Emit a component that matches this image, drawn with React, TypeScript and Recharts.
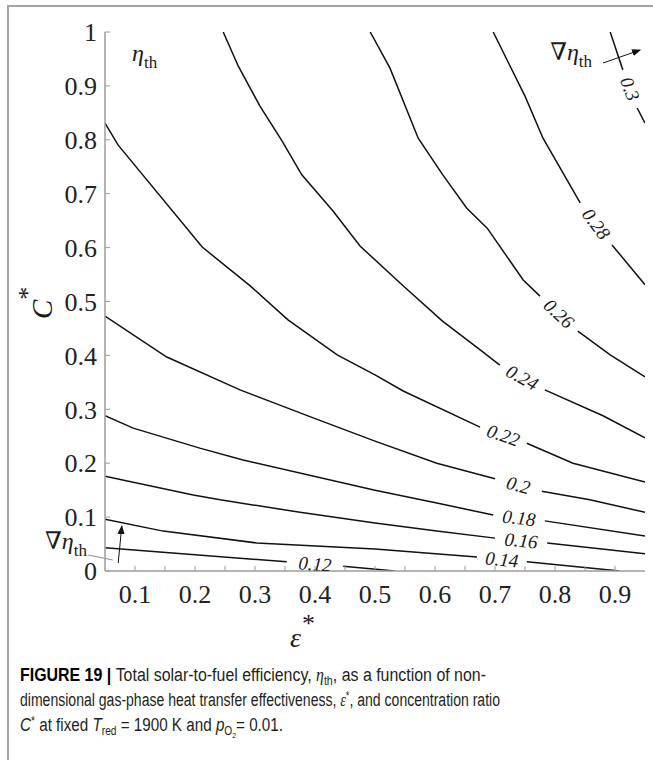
import React from "react";
import {
  ComposedChart,
  Line,
  Scatter,
  XAxis,
  YAxis,
  Customized,
} from "recharts";

type Pt = [number, number] | null;

// eta_th contours as [eps*, C*] vertices; null marks the break left for the inline label
const eta012: Pt[] = [[0.05, 0.043], [0.353, 0.017], null, [0.447, 0.009], [0.533, 0.0]];
const eta014: Pt[] = [
  [0.05, 0.096], [0.147, 0.074], [0.303, 0.052], [0.5, 0.041], [0.67, 0.026],
  null, [0.753, 0.017], [0.908, 0.0],
];
const eta016: Pt[] = [
  [0.05, 0.176], [0.197, 0.141], [0.242, 0.132], [0.375, 0.109], [0.5, 0.089],
  [0.603, 0.074], [0.7, 0.061], null, [0.787, 0.052], [0.95, 0.032],
];
const eta018: Pt[] = [
  [0.05, 0.288], [0.097, 0.265], [0.208, 0.228], [0.28, 0.206], [0.5, 0.15],
  [0.603, 0.126], [0.697, 0.104], null, [0.783, 0.093], [0.95, 0.065],
];
const eta020: Pt[] = [
  [0.05, 0.473], [0.153, 0.397], [0.275, 0.336], [0.397, 0.284], [0.5, 0.241],
  [0.603, 0.2], [0.7, 0.171], null, [0.778, 0.148], [0.858, 0.132], [0.95, 0.109],
];
const eta022: Pt[] = [
  [0.05, 0.831], [0.072, 0.79], [0.212, 0.601], [0.292, 0.529], [0.355, 0.466],
  [0.437, 0.401], [0.5, 0.364], [0.547, 0.334], [0.675, 0.267],
  null, [0.753, 0.237], [0.83, 0.2], [0.95, 0.165],
];
const eta024: Pt[] = [
  [0.247, 1.0], [0.272, 0.937], [0.308, 0.863], [0.345, 0.798], [0.378, 0.735],
  [0.43, 0.668], [0.475, 0.603], [0.545, 0.531], [0.612, 0.464], [0.678, 0.408],
  [0.708, 0.382], null, [0.783, 0.336], [0.88, 0.288], [0.95, 0.247],
];
const eta026: Pt[] = [
  [0.492, 1.0], [0.525, 0.933], [0.572, 0.803], [0.613, 0.735], [0.653, 0.673],
  [0.687, 0.636], [0.747, 0.54], [0.775, 0.51], null, [0.838, 0.445],
  [0.892, 0.401], [0.95, 0.36],
];
const eta028: Pt[] = [
  [0.697, 1.0], [0.75, 0.881], [0.78, 0.803], [0.842, 0.683], null,
  [0.895, 0.605], [0.95, 0.531],
];
const eta030: Pt[] = [[0.892, 1.0], [0.913, 0.93], null, [0.937, 0.859], [0.95, 0.831]];

const levelNames = ["0.12", "0.14", "0.16", "0.18", "0.2", "0.22", "0.24", "0.26", "0.28", "0.3"];
const contours = [eta012, eta014, eta016, eta018, eta020, eta022, eta024, eta026, eta028, eta030];

const xTicks = [0.1, 0.15, 0.2, 0.25, 0.3, 0.35, 0.4, 0.45, 0.5, 0.55, 0.6, 0.65, 0.7, 0.75, 0.8, 0.85, 0.9];
const yTicks = [0, 0.1, 0.2, 0.3, 0.4, 0.5, 0.6, 0.7, 0.8, 0.9, 1];

const SERIF = "'Liberation Serif', 'DejaVu Serif', serif";
const SANS = "'Liberation Sans', Arial, sans-serif";
const AXIS_GREY = "#9c9c9c";

const W = 653;
const H = 660;
const X_AXIS_H = 40;
const PLOT = { left: 105, top: 32, right: 645, bottom: 571 };
const X_DOMAIN: [number, number] = [0.05, 0.95];
const Y_DOMAIN: [number, number] = [0, 1];

// pixels per data unit, used for label angles and annotations
const SX = (PLOT.right - PLOT.left) / (X_DOMAIN[1] - X_DOMAIN[0]);
const SY = (PLOT.bottom - PLOT.top) / (Y_DOMAIN[1] - Y_DOMAIN[0]);
const px = (e: number) => PLOT.left + (e - X_DOMAIN[0]) * SX;
const py = (c: number) => PLOT.bottom - (c - Y_DOMAIN[0]) * SY;

const toSeries = (pts: Pt[]) =>
  pts.map((p, i) =>
    p ? { x: p[0], y: p[1] } : { x: (pts[i - 1]![0] + pts[i + 1]![0]) / 2, y: null }
  );

// inline labels sit in the middle of each gap, turned to follow the line
const labelData = contours.map((pts, k) => {
  const i = pts.indexOf(null);
  const a = pts[i - 1]!;
  const b = pts[i + 1]!;
  return {
    x: (a[0] + b[0]) / 2,
    y: (a[1] + b[1]) / 2,
    text: levelNames[k],
    angle: (Math.atan2((a[1] - b[1]) * SY, (b[0] - a[0]) * SX) * 180) / Math.PI,
  };
});

const fmtX = (v: number) =>
  Math.abs(v * 10 - Math.round(v * 10)) < 1e-6 ? String(Math.round(v * 10) / 10) : "";

const ContourLabel = (props: any) => {
  const { cx, cy, payload } = props;
  return (
    <text
      x={cx}
      y={cy}
      transform={`rotate(${payload.angle} ${cx} ${cy})`}
      textAnchor="middle"
      dominantBaseline="central"
      fontFamily={SERIF}
      fontStyle="italic"
      fontSize={19}
      fill="#1a1a1a"
    >
      {payload.text}
    </text>
  );
};

// gradient markers, eta_th tag and axis titles
const Annotations = () => (
  <g fontFamily={SERIF} fill="#1a1a1a">
    <defs>
      <marker
        id="arrowHead"
        viewBox="0 0 10 10"
        refX="9"
        refY="5"
        markerWidth="9"
        markerHeight="9"
        markerUnits="userSpaceOnUse"
        orient="auto"
      >
        <path d="M0,1 L10,5 L0,9 z" fill="#111" />
      </marker>
    </defs>

    <text x={px(0.095)} y={py(0.946)} fontSize={24}>
      <tspan fontStyle="italic">η</tspan>
      <tspan fontSize={17} dy={7}>th</tspan>
    </text>

    <text x={px(0.792)} y={py(0.948)} fontSize={24}>
      ∇<tspan fontStyle="italic">η</tspan>
      <tspan fontSize={17} dy={7}>th</tspan>
    </text>
    <line
      x1={px(0.88)}
      y1={py(0.9425)}
      x2={px(0.942)}
      y2={py(0.9666)}
      stroke="#111"
      strokeWidth={1}
      markerEnd="url(#arrowHead)"
    />

    <text x={px(-0.05)} y={py(0.041)} fontSize={24}>
      ∇<tspan fontStyle="italic">η</tspan>
      <tspan fontSize={17} dy={7}>th</tspan>
    </text>
    <line x1={px(0.022)} y1={py(0.0297)} x2={px(0.063)} y2={py(0.0204)} stroke="#888" strokeWidth={1} />
    <line
      x1={px(0.072)}
      y1={py(0.0148)}
      x2={px(0.078)}
      y2={py(0.0835)}
      stroke="#111"
      strokeWidth={1}
      markerEnd="url(#arrowHead)"
    />

    <text x={PLOT.left + 185} y={PLOT.bottom + 76} fontSize={28} fontStyle="italic">
      ε
    </text>
    <text x={PLOT.left + 197} y={PLOT.bottom + 61} fontSize={26}>
      *
    </text>

    <text x={52} y={319} transform="rotate(-90 52 319)" fontSize={29}>
      <tspan fontStyle="italic">C</tspan>
      <tspan fontSize={26} dy={-16}>*</tspan>
    </text>
  </g>
);

export default function App() {
  return (
    <div
      style={{
        position: "absolute",
        left: 0,
        top: 0,
        width: 653,
        height: 760,
        background: "#fff",
        overflow: "hidden",
      }}
    >
      <div
        style={{
          position: "absolute",
          left: 7,
          top: 5,
          width: 700,
          height: 800,
          borderTop: "2px solid #a3a3a3",
          borderLeft: "2px solid #a3a3a3",
        }}
      />
      <div style={{ position: "absolute", left: 0, top: 0 }}>
        <ComposedChart
          width={W}
          height={H}
          margin={{
            top: PLOT.top,
            right: W - PLOT.right,
            bottom: H - PLOT.bottom - X_AXIS_H,
            left: 15,
          }}
        >
          <XAxis
            type="number"
            dataKey="x"
            domain={X_DOMAIN}
            ticks={xTicks}
            interval={0}
            tickFormatter={fmtX}
            height={X_AXIS_H}
            tickSize={-5}
            tickMargin={19}
            axisLine={{ stroke: AXIS_GREY, strokeWidth: 1.5 }}
            tickLine={{ stroke: AXIS_GREY, strokeWidth: 1 }}
            tick={{ fontSize: 26, fontFamily: SERIF, fill: "#222" }}
            allowDataOverflow
          />
          <XAxis
            xAxisId="top"
            orientation="top"
            type="number"
            domain={X_DOMAIN}
            ticks={xTicks}
            interval={0}
            height={0}
            tickSize={-5}
            axisLine={{ stroke: AXIS_GREY, strokeWidth: 1.5 }}
            tickLine={{ stroke: AXIS_GREY, strokeWidth: 1 }}
            tick={false}
            allowDataOverflow
          />
          <YAxis
            type="number"
            domain={Y_DOMAIN}
            ticks={yTicks}
            interval={0}
            width={PLOT.left - 15}
            tickSize={-5}
            tickMargin={13}
            axisLine={{ stroke: AXIS_GREY, strokeWidth: 1.5 }}
            tickLine={{ stroke: AXIS_GREY, strokeWidth: 1 }}
            tick={{ fontSize: 26, fontFamily: SERIF, fill: "#222" }}
            allowDataOverflow
          />
          <YAxis
            yAxisId="right"
            orientation="right"
            type="number"
            domain={Y_DOMAIN}
            ticks={yTicks}
            interval={0}
            width={0}
            tickSize={-5}
            axisLine={{ stroke: AXIS_GREY, strokeWidth: 1.5 }}
            tickLine={{ stroke: AXIS_GREY, strokeWidth: 1 }}
            tick={false}
            allowDataOverflow
          />
          {contours.map((pts, k) => (
            <Line
              key={levelNames[k]}
              data={toSeries(pts)}
              dataKey="y"
              type="linear"
              stroke="#111"
              strokeWidth={1.5}
              dot={false}
              activeDot={false}
              isAnimationActive={false}
            />
          ))}
          <Scatter
            data={labelData}
            dataKey="y"
            shape={ContourLabel}
            isAnimationActive={false}
          />
          <Customized component={Annotations} />
        </ComposedChart>
      </div>
      <svg
        width={653}
        height={110}
        style={{ position: "absolute", left: 0, top: 650 }}
        fontFamily={SANS}
        fontSize={18}
        fill="#231f20"
      >
        <text x={20} y={31} textLength={466} lengthAdjust="spacingAndGlyphs">
          <tspan fontWeight="bold" fill="#000">FIGURE 19 | </tspan>
          Total solar-to-fuel efficiency, <tspan fontFamily={SERIF} fontStyle="italic">η</tspan>
          <tspan fontSize={12} dy={4}>th</tspan>
          <tspan dy={-4}>, as a function of non-</tspan>
        </text>
        <text x={20} y={56} textLength={480} lengthAdjust="spacingAndGlyphs">
          dimensional gas-phase heat transfer effectiveness, <tspan fontFamily={SERIF} fontStyle="italic">ε</tspan>
          <tspan fontSize={12} dy={-6}>*</tspan>
          <tspan dy={6}>, and concentration ratio</tspan>
        </text>
        <text x={20} y={81} textLength={263} lengthAdjust="spacingAndGlyphs">
          <tspan fontStyle="italic">C</tspan>
          <tspan fontSize={12} dy={-6}>*</tspan>
          <tspan dy={6}> at fixed </tspan>
          <tspan fontStyle="italic">T</tspan>
          <tspan fontSize={12} dy={4}>red</tspan>
          <tspan dy={-4}> = 1900 K and </tspan>
          <tspan fontStyle="italic">p</tspan>
          <tspan fontSize={12} dy={4}>O</tspan>
          <tspan fontSize={8} dy={3}>2</tspan>
          <tspan dy={-7}>= 0.01.</tspan>
        </text>
      </svg>
    </div>
  );
}
